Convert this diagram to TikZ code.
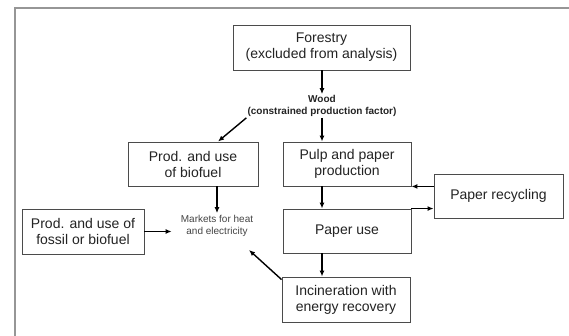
\documentclass[tikz,border=0pt]{standalone}
\usepackage{fontspec}
\setmainfont{Liberation Sans}
\usetikzlibrary{arrows.meta,positioning,calc}
\definecolor{frameline}{RGB}{150,150,150}
\definecolor{boxline}{RGB}{75,75,75}
\definecolor{ink}{RGB}{35,35,35}

\begin{document}
\begin{tikzpicture}[x=1pt,y=-1pt,
    stage/.style={draw=boxline,line width=0.9pt,fill=white,align=center,
      inner sep=0pt,minimum width=128pt,minimum height=44pt,
      font=\fontsize{14}{16}\selectfont,text=ink},
    flow/.style={-{Latex[length=6pt,width=5pt]},line width=1.4pt,black}]
    \useasboundingbox (0,0) rectangle (569,336);
    \draw[frameline,line width=1.6pt] (15,336) -- (15,8) -- (569,8);
    % boxes
    \node[stage,minimum width=177pt,minimum height=45pt] (forestry) at (321.5,47.5)
      {Forestry\\(excluded from analysis)};
    \node[align=center,inner sep=1pt,text=ink,
      font=\fontsize{10}{12}\selectfont\bfseries] (wood) at (322,106)
      {Wood\\(constrained production factor)};
    \node[stage,minimum width=130pt] (biofuel) at (193,164) {Prod. and use\\of biofuel};
    \node[stage] (pulp) at (347,164) {Pulp and paper\\production};
    \node[stage,minimum width=129pt] (recycling) at (498.5,196) {Paper recycling};
    \node[stage,minimum width=122pt,minimum height=45pt] (fossil) at (83,231.5)
      {Prod. and use of\\fossil or biofuel};
    \node[align=center,inner xsep=9pt,inner ysep=2pt,text=ink!85,
      font=\fontsize{10}{12}\selectfont] (markets) at (217,226)
      {Markets for heat\\and electricity};
    \node[stage] (paperuse) at (347,231) {Paper use};
    \node[stage,minimum height=45pt] (incineration) at (346,299.5)
      {Incineration with\\energy recovery};
    \coordinate (biofuelin) at ($(biofuel.north)+(25,0)$);
    \coordinate (marketsin) at (249,250);
    % flows
    \draw[flow] (forestry.south -| wood.north) -- (wood.north);
    \draw[flow] (wood.south) -- (wood.south |- pulp.north);
    \draw[flow] (wood.south west) -- (biofuelin);
    \draw[flow] (biofuel.south -| markets.north) -- (markets.north);
    \draw[flow] (fossil.east) -- (fossil.east -| markets.west);
    \draw[flow] (wood.south |- pulp.south) -- (wood.south |- paperuse.north);
    \draw[flow] (wood.south |- paperuse.south) -- (wood.south |- incineration.north);
    \draw[flow] ($(incineration.north west)+(0,3)$) -- (marketsin);
    \draw[flow] (recycling.west |- pulp.south) -- (pulp.south east);
    \draw[flow] (paperuse.north east) -- (paperuse.north east -| recycling.west);
  \end{tikzpicture}
\end{document}
